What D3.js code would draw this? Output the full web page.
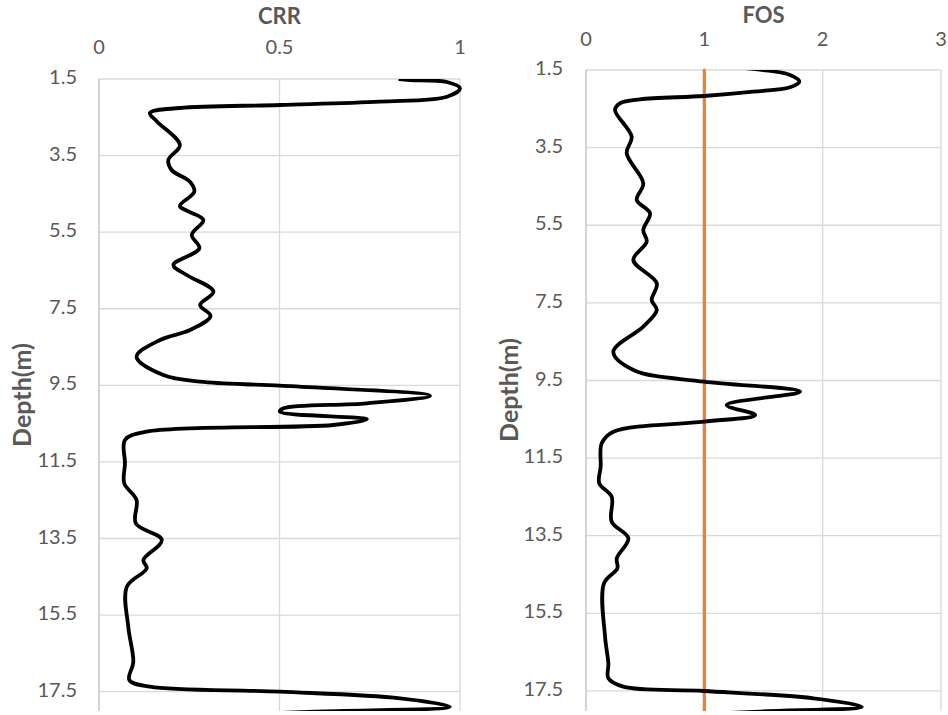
<!DOCTYPE html>
<html>
<head>
<meta charset="utf-8">
<script src="https://cdn.jsdelivr.net/npm/d3@7"></script>
<style>
  html, body { margin: 0; padding: 0; background: #fff; }
  svg { display: block; }
  text { font-family: Lato, "Open Sans", sans-serif; }
</style>
</head>
<body>
<script>
// Cyclic resistance ratio (CRR) profile against depth
const crrDepth = [1.505, 1.526, 1.578, 1.743, 1.962, 2.093, 2.179, 2.257, 2.388, 2.615, 3.224,
  3.615, 3.877, 4.182, 4.443, 4.817, 4.940, 5.182, 5.574, 5.921, 6.358,
  6.619, 7.055, 7.402, 7.690, 8.055, 8.316, 8.752, 9.231, 9.406, 9.510,
  9.771, 9.970, 10.100, 10.189, 10.388, 10.536, 10.711, 10.928, 11.537, 12.059,
  12.495, 13.104, 13.540, 14.062, 14.279, 14.759, 15.804, 16.718, 17.196, 17.371,
  17.501, 17.674, 17.893, 18.02, 18.15];
const crrValue = [0.83, 0.861, 0.964, 1.000, 0.964, 0.778, 0.501, 0.224, 0.141, 0.161, 0.224,
  0.192, 0.201, 0.252, 0.264, 0.224, 0.243, 0.289, 0.257, 0.278, 0.206,
  0.243, 0.317, 0.280, 0.309, 0.252, 0.169, 0.104, 0.178, 0.280, 0.501,
  0.917, 0.742, 0.511, 0.501, 0.742, 0.649, 0.132, 0.072, 0.072, 0.070,
  0.104, 0.102, 0.174, 0.123, 0.132, 0.077, 0.081, 0.095, 0.084, 0.141,
  0.501, 0.834, 0.972, 0.60, 0.25];

// Factor of safety (FOS) profile against depth
const fosDepth = [1.44, 1.500, 1.629, 1.801, 1.946, 2.059, 2.170, 2.255, 2.358, 2.531, 3.219,
  3.646, 4.419, 4.850, 5.192, 5.623, 5.924, 6.396, 6.996, 7.426, 7.684,
  8.114, 8.758, 9.230, 9.531, 9.789, 10.132, 10.389, 10.562, 10.820, 11.119,
  11.721, 12.149, 12.494, 13.139, 13.566, 14.082, 14.339, 14.726, 16.102, 16.787,
  17.174, 17.390, 17.501, 17.689, 17.906, 18.03, 18.15];
const fosValue = [1.30, 1.499, 1.724, 1.803, 1.724, 1.414, 0.997, 0.456, 0.287, 0.245, 0.386,
  0.344, 0.484, 0.429, 0.541, 0.484, 0.513, 0.400, 0.598, 0.555, 0.598,
  0.484, 0.231, 0.400, 0.997, 1.809, 1.189, 1.429, 0.997, 0.231, 0.133,
  0.124, 0.112, 0.217, 0.217, 0.358, 0.260, 0.265, 0.152, 0.161, 0.189,
  0.189, 0.315, 0.997, 1.921, 2.331, 1.47, 0.60];

// Limit line FOS = 1
const fosLimit = 1;
const limitDepths = [1.5, 18.2];

// Tick labels
const depthTicks = [1.5, 3.5, 5.5, 7.5, 9.5, 11.5, 13.5, 15.5, 17.5, 19.5];
const crrTicks = [0, 0.5, 1];
const fosTicks = [0, 1, 2, 3];

const W = 948, H = 715;
const svg = d3.select("body").append("svg").attr("width", W).attr("height", H);

const panels = [
  { id: "crr", title: "CRR", depth: crrDepth, value: crrValue, ticks: crrTicks,
    xDomain: [0, 1], x0: 99, x1: 460, y0: 79, pxPerM: 38.29,
    titleY: 18, tickY: 49, labelRight: 77, axisTitleX: 25, axisTitleY: 395 },
  { id: "fos", title: "FOS", depth: fosDepth, value: fosValue, ticks: fosTicks,
    xDomain: [0, 3], x0: 586, x1: 941, y0: 70, pxPerM: 38.81,
    titleY: 17, tickY: 41, labelRight: 563, axisTitleX: 512, axisTitleY: 390 }
];

const clipBottom = 711;
const gridColor = "#d9d9d9";
const textColor = "#595959";

panels.forEach(p => {
  const x = d3.scaleLinear().domain(p.xDomain).range([p.x0, p.x1]);
  const y = d3.scaleLinear().domain([1.5, 19.5]).range([p.y0, p.y0 + 18 * p.pxPerM]);

  const defs = svg.append("defs");
  defs.append("clipPath").attr("id", "clip-" + p.id)
    .append("rect").attr("x", p.x0 - 4).attr("y", p.y0 - 2)
    .attr("width", p.x1 - p.x0 + 8).attr("height", clipBottom - p.y0 + 2);

  const g = svg.append("g").attr("clip-path", `url(#clip-${p.id})`);

  // horizontal gridlines
  g.selectAll(".hgrid").data(depthTicks).join("line")
    .attr("x1", p.x0).attr("x2", p.x1)
    .attr("y1", d => y(d)).attr("y2", d => y(d))
    .attr("stroke", gridColor).attr("stroke-width", 1.3);

  // vertical gridlines
  g.selectAll(".vgrid").data(p.ticks).join("line")
    .attr("x1", d => x(d)).attr("x2", d => x(d))
    .attr("y1", p.y0).attr("y2", y(19.5))
    .attr("stroke", (d, i) => i === 0 ? "#bfbfbf" : gridColor)
    .attr("stroke-width", 1.3);

  if (p.id === "fos") {
    g.append("line")
      .attr("x1", x(fosLimit)).attr("x2", x(fosLimit))
      .attr("y1", y(limitDepths[0])).attr("y2", y(limitDepths[1]))
      .attr("stroke", "#ed7d31").attr("stroke-width", 3.2)
      .attr("stroke-linecap", "round");
  }

  const pts = p.depth.map((d, i) => [p.value[i], d]);
  const line = d3.line()
    .x(d => x(d[0])).y(d => y(d[1]))
    .curve(d3.curveCatmullRom.alpha(0.5));

  const plotClip = defs.append("clipPath").attr("id", "plot-" + p.id);
  plotClip.append("rect").attr("x", p.x0 - 10).attr("y", p.y0)
    .attr("width", p.x1 - p.x0 + 20).attr("height", clipBottom - p.y0);

  svg.append("path").attr("clip-path", `url(#plot-${p.id})`)
    .attr("d", line(pts))
    .attr("fill", "none").attr("stroke", "#000")
    .attr("stroke-width", 3.8).attr("stroke-linejoin", "round");

  // top value axis labels
  svg.selectAll(".xt-" + p.id).data(p.ticks).join("text")
    .attr("x", d => x(d)).attr("y", p.tickY)
    .attr("text-anchor", "middle").attr("dominant-baseline", "middle")
    .attr("font-size", 20).attr("fill", textColor)
    .text(d => d);

  // depth labels
  svg.selectAll(".yt-" + p.id).data(depthTicks.filter(d => y(d) < clipBottom)).join("text")
    .attr("x", p.labelRight).attr("y", d => y(d))
    .attr("text-anchor", "end").attr("dominant-baseline", "middle")
    .attr("font-size", 20).attr("fill", textColor)
    .text(d => d);

  // titles
  svg.append("text")
    .attr("x", (p.x0 + p.x1) / 2).attr("y", p.titleY)
    .attr("text-anchor", "middle").attr("dominant-baseline", "middle")
    .attr("font-size", 22).attr("font-weight", "bold").attr("fill", textColor)
    .text(p.title);

  svg.append("text")
    .attr("transform", `translate(${p.axisTitleX},${p.axisTitleY}) rotate(-90)`)
    .attr("text-anchor", "middle").attr("dominant-baseline", "middle")
    .attr("font-size", 25).attr("font-weight", "bold").attr("fill", textColor)
    .text("Depth(m)");
});
</script>
</body>
</html>
